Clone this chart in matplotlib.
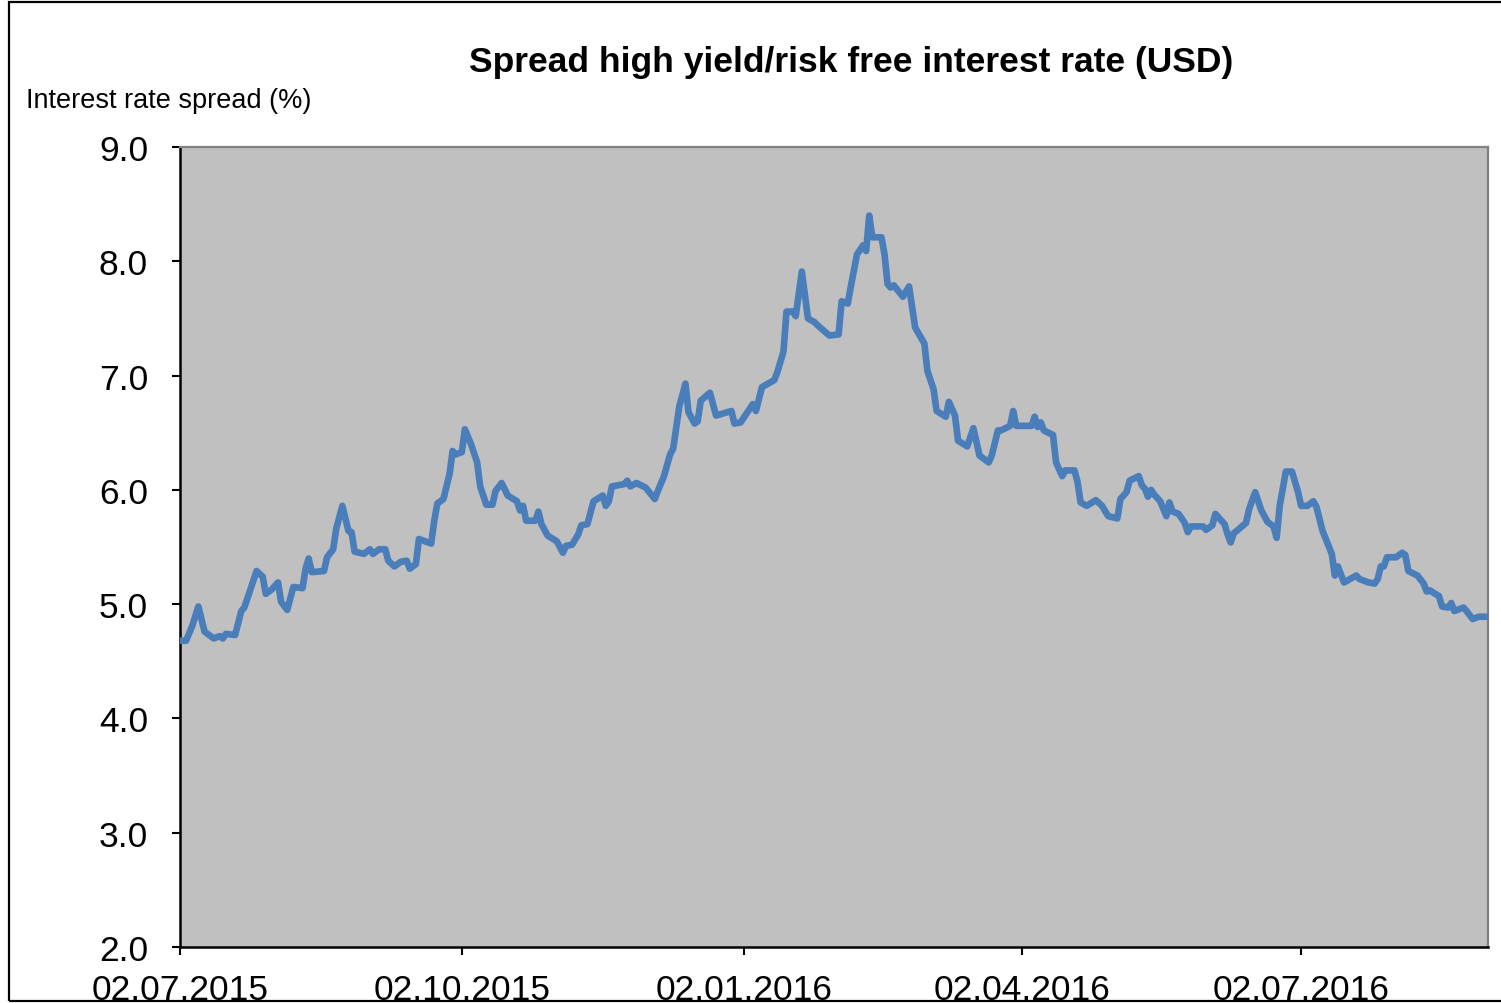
import matplotlib
matplotlib.use("Agg")
import matplotlib.pyplot as plt
import matplotlib.dates as mdates
import matplotlib.patches as mpatches
import numpy as np
import pandas as pd

plt.rcParams['font.family'] = ['Liberation Sans', 'DejaVu Sans']

# ---- data ----
start_date = "2015-07-02"
end_date = "2016-09-01"
day_offsets = [
    0, 2, 4, 6, 8, 11, 13, 14, 15, 18, 20, 21, 23, 25, 27, 28, 30, 32, 33, 35,
    37, 40, 41, 42, 43, 47, 48, 50, 51, 53, 55, 56, 57, 60, 62, 63, 65, 67, 68, 70,
    72, 74, 75, 77, 78, 82, 83, 84, 86, 88, 89, 90, 92, 93, 95, 97, 98, 100, 102, 103,
    105, 107, 110, 111, 112, 113, 116, 117, 118, 120, 123, 125, 126, 128, 130, 131, 133, 135, 138, 139,
    140, 141, 145, 146, 147, 149, 152, 155, 156, 158, 160, 161, 163, 165, 166, 168, 169, 170, 173, 175,
    180, 181, 183, 187, 188, 190, 192, 194, 195, 197, 198, 200, 201, 203, 205, 207, 209, 212, 215, 216,
    218, 219, 221, 223, 224, 225, 226, 229, 230, 231, 232, 233, 236, 238, 240, 243, 244, 246, 247, 250,
    251, 253, 254, 257, 259, 261, 264, 265, 267, 268, 271, 272, 273, 278, 279, 280, 281, 282, 285, 286,
    288, 289, 292, 293, 294, 296, 299, 301, 303, 306, 307, 309, 310, 313, 314, 315, 316, 317, 318, 320,
    322, 323, 324, 326, 328, 329, 330, 334, 335, 337, 338, 341, 342, 343, 344, 348, 349, 351, 353, 355,
    357, 358, 359, 361, 363, 365, 366, 368, 370, 371, 373, 376, 377, 378, 380, 384, 385, 388, 390, 391,
    392, 393, 394, 397, 399, 400, 401, 404, 406, 407, 408, 411, 412, 414, 415, 416, 419, 420, 422, 424,
    427,
]
spread = [
    4.68, 4.68, 4.81, 4.98, 4.76, 4.70, 4.72, 4.70, 4.74, 4.73, 4.94, 4.97, 5.13, 5.29, 5.24, 5.09, 5.13, 5.19, 5.02, 4.95,
    5.15, 5.14, 5.31, 5.40, 5.28, 5.29, 5.41, 5.48, 5.66, 5.86, 5.64, 5.63, 5.46, 5.44, 5.48, 5.44, 5.48, 5.48, 5.38, 5.33,
    5.37, 5.38, 5.31, 5.35, 5.57, 5.53, 5.73, 5.88, 5.92, 6.14, 6.34, 6.31, 6.33, 6.53, 6.40, 6.24, 6.03, 5.87, 5.87, 5.99,
    6.06, 5.95, 5.90, 5.82, 5.86, 5.73, 5.73, 5.81, 5.70, 5.60, 5.55, 5.45, 5.51, 5.52, 5.61, 5.69, 5.70, 5.90, 5.95, 5.86,
    5.90, 6.03, 6.05, 6.08, 6.03, 6.06, 6.02, 5.92, 5.99, 6.12, 6.31, 6.36, 6.73, 6.93, 6.68, 6.58, 6.60, 6.78, 6.85, 6.65,
    6.69, 6.58, 6.59, 6.75, 6.69, 6.90, 6.93, 6.96, 7.03, 7.21, 7.56, 7.56, 7.52, 7.91, 7.50, 7.47, 7.42, 7.35, 7.36, 7.65,
    7.63, 7.78, 8.06, 8.14, 8.09, 8.40, 8.21, 8.21, 8.06, 7.80, 7.77, 7.79, 7.69, 7.78, 7.42, 7.28, 7.04, 6.88, 6.69, 6.64,
    6.77, 6.65, 6.43, 6.38, 6.54, 6.30, 6.24, 6.30, 6.52, 6.52, 6.56, 6.69, 6.56, 6.56, 6.64, 6.55, 6.59, 6.52, 6.48, 6.24,
    6.12, 6.17, 6.17, 6.07, 5.89, 5.86, 5.91, 5.86, 5.77, 5.75, 5.92, 5.98, 6.08, 6.12, 6.04, 6.01, 5.94, 6.00, 5.96, 5.90,
    5.77, 5.89, 5.81, 5.79, 5.71, 5.63, 5.68, 5.68, 5.65, 5.69, 5.79, 5.70, 5.61, 5.54, 5.62, 5.71, 5.83, 5.98, 5.82, 5.72,
    5.68, 5.58, 5.86, 6.16, 6.16, 5.98, 5.86, 5.86, 5.90, 5.85, 5.64, 5.44, 5.25, 5.33, 5.19, 5.25, 5.22, 5.19, 5.18, 5.22,
    5.33, 5.33, 5.41, 5.41, 5.45, 5.43, 5.29, 5.25, 5.18, 5.11, 5.12, 5.07, 4.98, 4.97, 5.01, 4.94, 4.97, 4.94, 4.87, 4.89,
    4.89,
]
tick_dates = ["2015-07-02", "2015-10-02", "2016-01-02", "2016-04-02", "2016-07-02"]
tick_labels = ["02.07.2015", "02.10.2015", "02.01.2016", "02.04.2016", "02.07.2016"]
y_ticks = [2.0, 3.0, 4.0, 5.0, 6.0, 7.0, 8.0, 9.0]

title = "Spread high yield/risk free interest rate (USD)"
ylabel = "Interest rate spread (%)"

dates = pd.Timestamp(start_date) + pd.to_timedelta(day_offsets, unit="D")

W, H = 1501, 1004
fig = plt.figure(figsize=(W / 100, H / 100), dpi=100)
fig.patch.set_facecolor("white")

ax = fig.add_axes([180 / W, 1 - 948 / H, 1308 / W, 800 / H])
ax.set_facecolor("#c0c0c0")
ax.plot(dates, spread, color="#4a7ebb", lw=4.8, solid_joinstyle="round", solid_capstyle="round", zorder=3)

ax.set_xlim(pd.Timestamp(start_date), pd.Timestamp(end_date))
ax.set_ylim(2.0, 9.0)
ax.set_yticks(y_ticks)
ax.set_yticklabels([f"{v:.1f}" for v in y_ticks])
ax.set_xticks(pd.to_datetime(tick_dates))
ax.set_xticklabels(tick_labels)

for s in ["left", "bottom"]:
    ax.spines[s].set_color("black")
    ax.spines[s].set_linewidth(1.8)
for s in ["top", "right"]:
    ax.spines[s].set_color("#808080")
    ax.spines[s].set_linewidth(1.6)

ax.tick_params(axis="y", direction="out", length=6, width=1.5, pad=17, labelsize=25.5, colors="black")
ax.tick_params(axis="x", direction="out", length=6, width=1.5, pad=12.5, labelsize=25.5, colors="black")

fig.text(851 / W, 1 - 72 / H, title, ha="center", va="baseline", fontsize=25.5, fontweight="bold")
fig.text(26 / W, 1 - 108 / H, ylabel, ha="left", va="baseline", fontsize=19.5)

# outer chart frame
frame = mpatches.Rectangle((9 / W, 1 - 1002 / H), 1.2, (1002 - 3) / H, transform=fig.transFigure,
                           fill=False, edgecolor="black", linewidth=1.6, zorder=10)
fig.patches.append(frame)

fig.savefig("out.png", dpi=100)
